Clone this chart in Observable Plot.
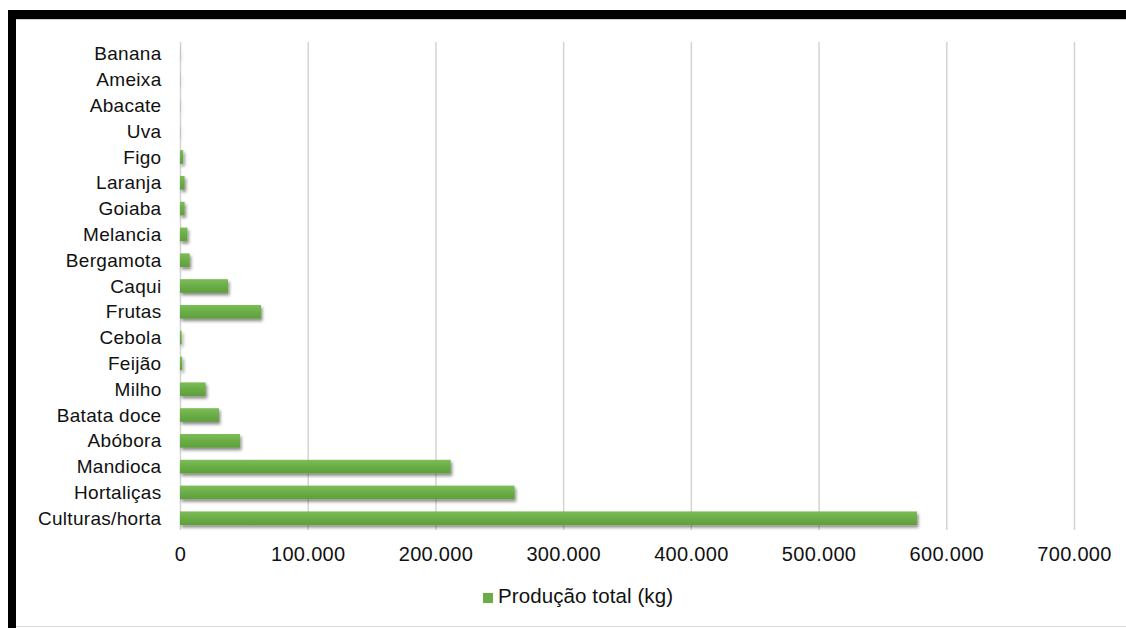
<!DOCTYPE html>
<html>
<head>
<meta charset="utf-8">
<script src="https://cdn.jsdelivr.net/npm/d3@7"></script>
<script src="https://cdn.jsdelivr.net/npm/@observablehq/plot@0.6"></script>
<style>
  html, body { margin: 0; padding: 0; background: #fff; }
  body { width: 1126px; height: 628px; position: relative; overflow: hidden; font-family: "Liberation Sans", Arial, sans-serif; }
  #topbar { position: absolute; left: 8px; top: 10px; width: 1118px; height: 9px; background: #000; }
  #topline { position: absolute; left: 8px; top: 19px; width: 1118px; height: 1px; background: #cfcfcf; }
  #leftbar { position: absolute; left: 8px; top: 10px; width: 8px; height: 618px; background: #000; }
  #bottomline { position: absolute; left: 16px; top: 626px; width: 1110px; height: 1px; background: #d9d9d9; }
  #chart { position: absolute; left: 0; top: 0; }
  #legend-sw { position: absolute; left: 483px; top: 593px; width: 10px; height: 10px; background: #6aad46; }
  #legend-tx { position: absolute; left: 498px; top: 584px; font-size: 20.5px; line-height: 24px; color: #111; white-space: nowrap; letter-spacing: 0.1px; }
</style>
</head>
<body>
<div id="chart"></div>
<div id="topbar"></div>
<div id="topline"></div>
<div id="leftbar"></div>
<div id="bottomline"></div>
<div id="legend-sw"></div>
<div id="legend-tx"></div>
<script>
const categories = ["Banana","Ameixa","Abacate","Uva","Figo","Laranja","Goiaba","Melancia","Bergamota","Caqui","Frutas","Cebola","Feijão","Milho","Batata doce","Abóbora","Mandioca","Hortaliças","Culturas/horta"];
const values = [150,150,150,150,2500,3600,3600,5800,7600,37600,63400,1300,1800,20100,30500,47000,212000,262000,577000];
const xTicks = [0,100000,200000,300000,400000,500000,600000,700000];
const seriesName = "Produção total (kg)";

document.getElementById("legend-tx").textContent = seriesName;

const data = categories.map((c, i) => ({category: c, value: values[i]}));
const fmt = d3.formatLocale({decimal: ",", thousands: ".", grouping: [3], currency: ["R$", ""]}).format(",d");

const chart = Plot.plot({
  width: 1126,
  height: 575,
  marginLeft: 180,
  marginRight: 52,
  marginTop: 42,
  marginBottom: 45,
  style: {fontFamily: "'Liberation Sans', Arial, sans-serif", fontSize: "19px", color: "#111", background: "transparent"},
  x: {domain: [0, 700000], ticks: xTicks},
  y: {domain: categories, paddingInner: 0.47, paddingOuter: 0.19, round: false},
  marks: [
    Plot.gridX(xTicks, {stroke: "#d4d4d4", strokeOpacity: 1, strokeWidth: 1.5}),
    Plot.barX(data, {x: "value", y: "category", fill: "#6aad46"}),
    Plot.axisX({ticks: xTicks, tickSize: 0, tickPadding: 16, tickFormat: fmt, fontSize: 20, label: null}),
    Plot.axisY({tickSize: 0, tickPadding: 19, fontSize: 19, label: null})
  ]
});
document.getElementById("chart").appendChild(chart);

// letter spacing to match the slightly wide original text
chart.querySelectorAll('g[aria-label="y-axis tick label"] text').forEach(t => t.setAttribute("letter-spacing", "0.3"));
chart.querySelectorAll('g[aria-label="x-axis tick label"] text').forEach(t => t.setAttribute("letter-spacing", "0.3"));

// soft drop shadow on the bars, like the original
const ns = "http://www.w3.org/2000/svg";
const defs = document.createElementNS(ns, "defs");
defs.innerHTML = '<filter id="shadow" x="-5%" y="-30%" width="115%" height="190%"><feDropShadow dx="1.5" dy="2.5" stdDeviation="1.5" flood-color="#000" flood-opacity="0.45"/></filter>' +
  '<linearGradient id="barGrad" x1="0" y1="0" x2="0" y2="1"><stop offset="0" stop-color="#7cbd58"/><stop offset="0.5" stop-color="#6aad46"/><stop offset="1" stop-color="#5f9e3d"/></linearGradient>';
chart.insertBefore(defs, chart.firstChild);
const barG = chart.querySelector('g[aria-label="bar"]');
if (barG) {
  barG.setAttribute("filter", "url(#shadow)");
  barG.querySelectorAll("rect").forEach(r => r.setAttribute("fill", "url(#barGrad)"));
}
</script>
</body>
</html>
